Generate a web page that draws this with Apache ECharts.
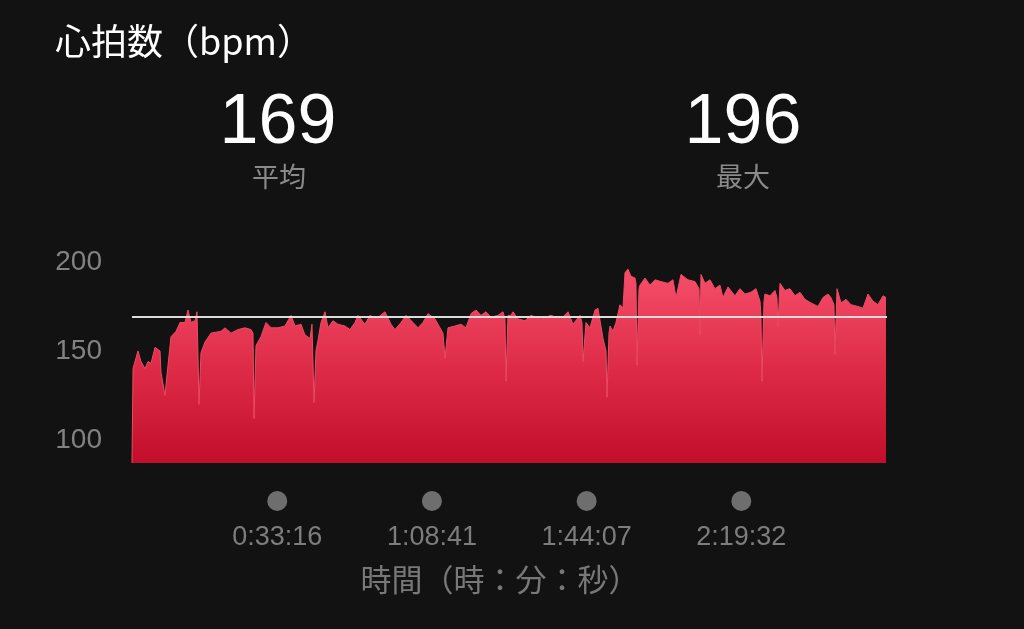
<!DOCTYPE html>
<html>
<head>
<meta charset="utf-8">
<script src="https://cdn.jsdelivr.net/npm/echarts@6/dist/echarts.min.js"></script>
<style>
html,body{margin:0;padding:0;background:#121212;}
#c{width:1024px;height:629px;}
</style>
</head>
<body>
<div id="c"></div>
<script>
// elapsed time (seconds)
const times = [0,14,82,124,179,220,261,316,385,398,453,495,536,605,660,728,769,811,866,893,921,948,1003,1085,1223,1278,1360,1456,1553,1635,1663,1676,1704,1772,1841,1910,2006,2102,2185,2240,2322,2377,2446,2473,2501,2528,2556,2597,2652,2693,2762,2830,2927,2995,3064,3105,3201,3270,3353,3476,3559,3614,3696,3765,3861,3930,3998,4067,4163,4232,4273,4301,4342,4438,4520,4589,4658,4727,4795,4864,4933,5029,5098,5125,5139,5166,5207,5235,5304,5400,5482,5620,5757,5894,5991,6059,6156,6183,6197,6238,6293,6362,6403,6472,6513,6527,6554,6568,6609,6650,6705,6746,6774,6815,6856,6911,6925,6939,6966,6980,7049,7117,7186,7268,7365,7433,7475,7543,7639,7736,7791,7804,7818,7873,7942,8010,8079,8120,8189,8285,8354,8423,8505,8574,8629,8642,8656,8684,8697,8766,8835,8862,8876,8904,8972,9041,9110,9178,9247,9329,9426,9494,9563,9604,9645,9659,9687,9742,9810,9879,9975,10044,10113,10181,10250,10319,10360,10374];
// heart rate (bpm)
const heartRate = [87,140,150,144,140,144,143,152,150,138,125,142,158,161,166,166,173,166,167,172,120,149,155,160,161,163,160,162,163,162,160,112,153,158,166,163,163,164,170,164,165,159,157,165,121,150,156,166,172,163,167,165,164,162,166,170,165,170,168,172,165,162,166,170,166,163,166,171,168,163,160,146,163,164,165,163,171,173,170,172,169,170,172,168,133,170,170,172,168,167,170,168,170,168,172,165,170,166,144,166,163,173,174,157,150,124,160,164,161,166,176,174,194,196,192,191,188,142,185,187,191,187,190,189,188,190,180,193,190,189,185,159,193,188,190,185,187,180,186,181,185,182,183,185,178,170,133,178,182,181,184,180,164,188,184,185,181,183,179,177,175,180,182,180,176,148,185,177,179,176,175,174,182,178,176,181,180];
const avgValue = 169;
const maxValue = 196;
const yLabelValues = [100,150,200];
const xTickValues = [1996,4121,6247,8372];
const titleText = '心拍数（bpm）';
const avgLabel = '平均';
const maxLabel = '最大';
const xAxisName = '時間（時：分：秒）';

const FONT = "'Liberation Sans','Noto Sans CJK JP',sans-serif";
const CJK = "'Noto Sans CJK JP','Liberation Sans',sans-serif";

function fmtTime(v){
  v = Math.round(v);
  const h = Math.floor(v/3600), m = Math.floor((v%3600)/60), s = v%60;
  return h + ':' + String(m).padStart(2,'0') + ':' + String(s).padStart(2,'0');
}

const data = times.map((t,i)=>[t, heartRate[i]]);
const chart = echarts.init(document.getElementById('c'));
chart.setOption({
  backgroundColor:'#121212',
  animation:false,
  grid:{left:132,right:137,top:262,bottom:166},
  graphic:[
    {type:'text',left:55,top:23,style:{text:titleText,fill:'#ffffff',font:'36px '+CJK}},
    {type:'text',x:278,y:124,style:{text:String(avgValue),fill:'#ffffff',font:'70px '+FONT,align:'center',verticalAlign:'middle'}},
    {type:'text',x:279,y:177,style:{text:avgLabel,fill:'#8a8a8a',font:'27px '+CJK,align:'center',verticalAlign:'middle'}},
    {type:'text',x:743,y:124,style:{text:String(maxValue),fill:'#ffffff',font:'70px '+FONT,align:'center',verticalAlign:'middle'}},
    {type:'text',x:743,y:177,style:{text:maxLabel,fill:'#8a8a8a',font:'27px '+CJK,align:'center',verticalAlign:'middle'}},
    {type:'text',x:500,y:579,style:{text:xAxisName,fill:'#787878',font:'31px '+CJK,align:'center',verticalAlign:'middle'}}
  ],
  xAxis:{
    type:'value',min:0,max:times[times.length-1],
    axisLine:{show:false},axisTick:{show:false},splitLine:{show:false},
    axisLabel:{
      customValues:xTickValues,
      margin:28,
      formatter:function(v){return '{dot| }\n{t|'+fmtTime(v)+'}';},
      rich:{
        dot:{width:20,height:20,borderRadius:10,backgoundColor:'#6e6e6e',backgroundColor:'#6e6e6e',lineHeight:20,align:'center'},
        t:{fontSize:27,fontFamily:FONT,color:'#7d7d7d',lineHeight:54,align:'center'}
      }
    }
  },
  yAxis:{
    type:'value',min:87,max:200,
    axisLine:{show:false},axisTick:{show:false},splitLine:{show:false},
    axisLabel:{customValues:yLabelValues,margin:30,fontSize:28,fontFamily:FONT,color:'#828282'}
  },
  series:[{
    type:'line',
    data:data,
    showSymbol:false,
    lineStyle:{width:1,color:'#f04a64'},
    areaStyle:{
      opacity:1,
      color:new echarts.graphic.LinearGradient(0,0,0,1,[
        {offset:0,color:'#f64f6a'},
        {offset:0.5,color:'#de2c48'},
        {offset:1,color:'#c20e2b'}
      ])
    },
    markLine:{
      silent:true,
      symbol:'none',
      label:{show:false},
      lineStyle:{color:'#dcdcdc',width:2,type:'solid'},
      data:[{yAxis:avgValue}]
    }
  }]
});
</script>
</body>
</html>
